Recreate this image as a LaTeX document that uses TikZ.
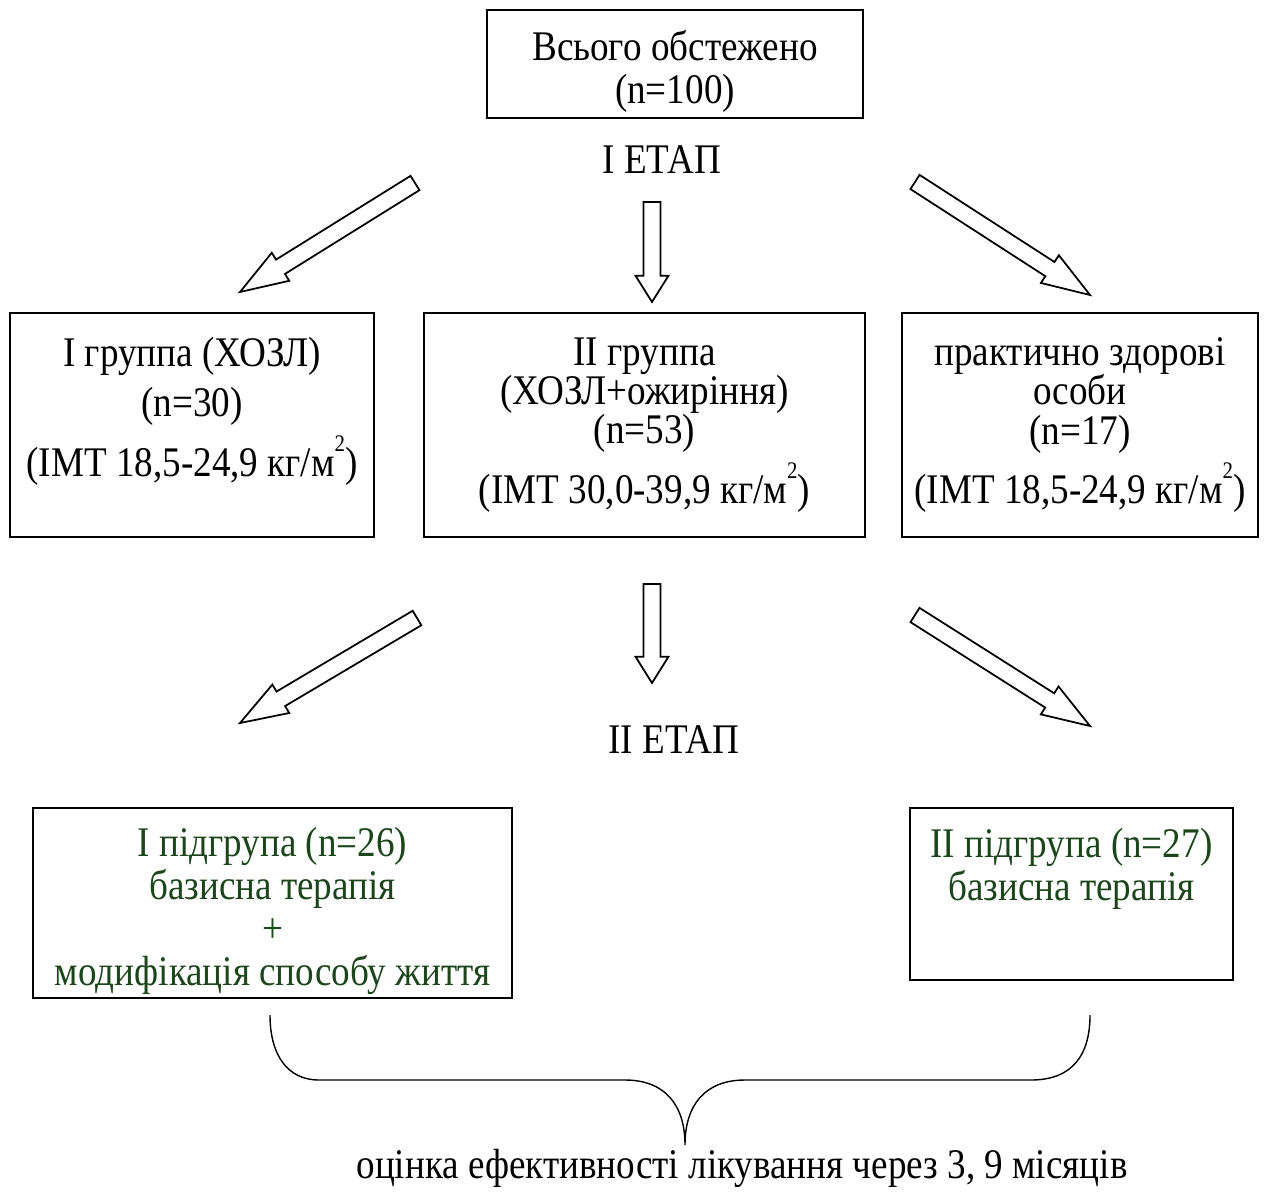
\documentclass[tikz,border=0pt]{standalone}
\usepackage{fontspec}
\setmainfont{Liberation Serif}[FakeStretch=0.88]
\usetikzlibrary{positioning, calc}
\definecolor{subgreen}{HTML}{1C451C}

% text size with fixed line spacing #1
\newcommand{\diagfont}[1]{\fontsize{24}{#1}\selectfont\lineskiplimit=-30pt\relax}
% m^2 as printed (raised small 2)
\newcommand{\msq}{м\raisebox{1.3ex}{\fontsize{13.5}{13.5}\selectfont 2}}
\newcommand{\shaftw}{4.8pt}
\newcommand{\headw}{9.4pt}
% hollow block arrow from #2 to #3, head length #1
\newcommand{\blockarrow}[3][26pt]{%
  \draw[hollowarrow] let \p1=($(#3)-(#2)$), \n1={atan2(\y1,\x1)}, \n2={veclen(\x1,\y1)} in
    ($(#2)+(\n1+90:\shaftw)$) -- ($(#2)+(\n1:\n2-#1)+(\n1+90:\shaftw)$)
    -- ($(#2)+(\n1:\n2-#1)+(\n1+90:\headw)$) -- (#3)
    -- ($(#2)+(\n1:\n2-#1)+(\n1-90:\headw)$) -- ($(#2)+(\n1:\n2-#1)+(\n1-90:\shaftw)$)
    -- ($(#2)+(\n1-90:\shaftw)$) -- cycle;}

\begin{document}
\begin{tikzpicture}
% Define styles
\tikzstyle{groupbox} = [rectangle, draw, line width=0.9pt, inner sep=0pt]
\tikzstyle{boxtext} = [align=center, inner sep=0pt, font=\diagfont{22.4pt}]
\tikzstyle{subtext} = [align=center, inner sep=0pt, text=subgreen, font=\diagfont{24.4pt}]
\tikzstyle{hollowarrow} = [draw, line width=1pt, line join=miter]
\tikzstyle{brace} = [draw, line width=0.8pt]

\useasboundingbox (0,0) rectangle (25.32,-23.96);

% Boxes
\node[groupbox, minimum width=7.52cm, minimum height=2.16cm] (total) at (13.5,-1.28) {};
\node[groupbox, minimum width=7.28cm, minimum height=4.48cm] (group1) at (3.84,-8.5) {};
\node[groupbox, minimum width=8.82cm, minimum height=4.48cm] (group2) at (12.89,-8.5) {};
\node[groupbox, minimum width=7.12cm, minimum height=4.48cm] (healthy) at (21.6,-8.5) {};
\node[groupbox, minimum width=9.58cm, minimum height=3.8cm] (sub1) at (5.45,-18.06) {};
\node[groupbox, minimum width=6.46cm, minimum height=3.44cm] (sub2) at (21.43,-17.88) {};

% Texts
\node[boxtext, font=\diagfont{24.4pt}, below=0.42cm of total.north] (totaltext) {Всього обстежено\\(n=100)};
\node[boxtext, font=\diagfont{28.4pt}, below=0.5cm of group1.north] (group1text) {І группа (ХОЗЛ)\\(n=30)\\[0.2cm](ІМТ 18,5-24,9 кг/\msq)};
\node[boxtext, below=0.5cm of group2.north] (group2text) {ІІ группа\\(ХОЗЛ+ожиріння)\\(n=53)\\[0.4cm](ІМТ 30,0-39,9 кг/\msq)};
\node[boxtext, below=0.5cm of healthy.north] (healthytext) {практично здорові\\особи\\(n=17)\\[0.4cm](ІМТ 18,5-24,9 кг/\msq)};
\node[subtext, below=0.4cm of sub1.north] (sub1text) {І підгрупа (n=26)\\базисна терапія\\+\\модифікація способу життя};
\node[subtext, below=0.42cm of sub2.north] (sub2text) {ІІ підгрупа (n=27)\\базисна терапія};

\node[boxtext] (stage1) at (13.24,-3.2) {І ЕТАП};
\node[boxtext] (stage2) at (13.48,-14.8) {ІІ ЕТАП};
\node[boxtext] (outcome) at (14.84,-23.36) {оцінка ефективності лікування через 3, 9 місяців};

% Arrows
\coordinate (a1tail) at (8.3,-3.66);   \coordinate (a1tip) at (4.8,-5.84);
\coordinate (a2tail) at (13.04,-4.04); \coordinate (a2tip) at (13.04,-6.04);
\coordinate (a3tail) at (18.3,-3.64);  \coordinate (a3tip) at (21.8,-5.9);
\coordinate (b1tail) at (8.34,-12.36); \coordinate (b1tip) at (4.8,-14.46);
\coordinate (b2tail) at (13.04,-11.68);\coordinate (b2tip) at (13.04,-13.66);
\coordinate (b3tail) at (18.3,-12.3);  \coordinate (b3tip) at (21.8,-14.52);

\blockarrow[27pt]{a1tail}{a1tip}
\blockarrow[15pt]{a2tail}{a2tip}
\blockarrow[27pt]{a3tail}{a3tip}
\blockarrow[27pt]{b1tail}{b1tip}
\blockarrow[15pt]{b2tail}{b2tip}
\blockarrow[27pt]{b3tail}{b3tip}

% Brace
\coordinate (braceL) at (5.4,-20.3);
\coordinate (braceTip) at (13.7,-22.9);
\coordinate (braceR) at (21.8,-20.3);
\draw[brace] (braceL) .. controls (5.4,-21.1) and (5.75,-21.6) .. (6.38,-21.6) -- (12.5,-21.6)
  .. controls (13.3,-21.6) and (13.7,-22.1) .. (braceTip)
  .. controls (13.7,-22.1) and (14.1,-21.6) .. (14.9,-21.6) -- (20.62,-21.6)
  .. controls (21.45,-21.6) and (21.8,-21.1) .. (braceR);
\end{tikzpicture}
\end{document}
